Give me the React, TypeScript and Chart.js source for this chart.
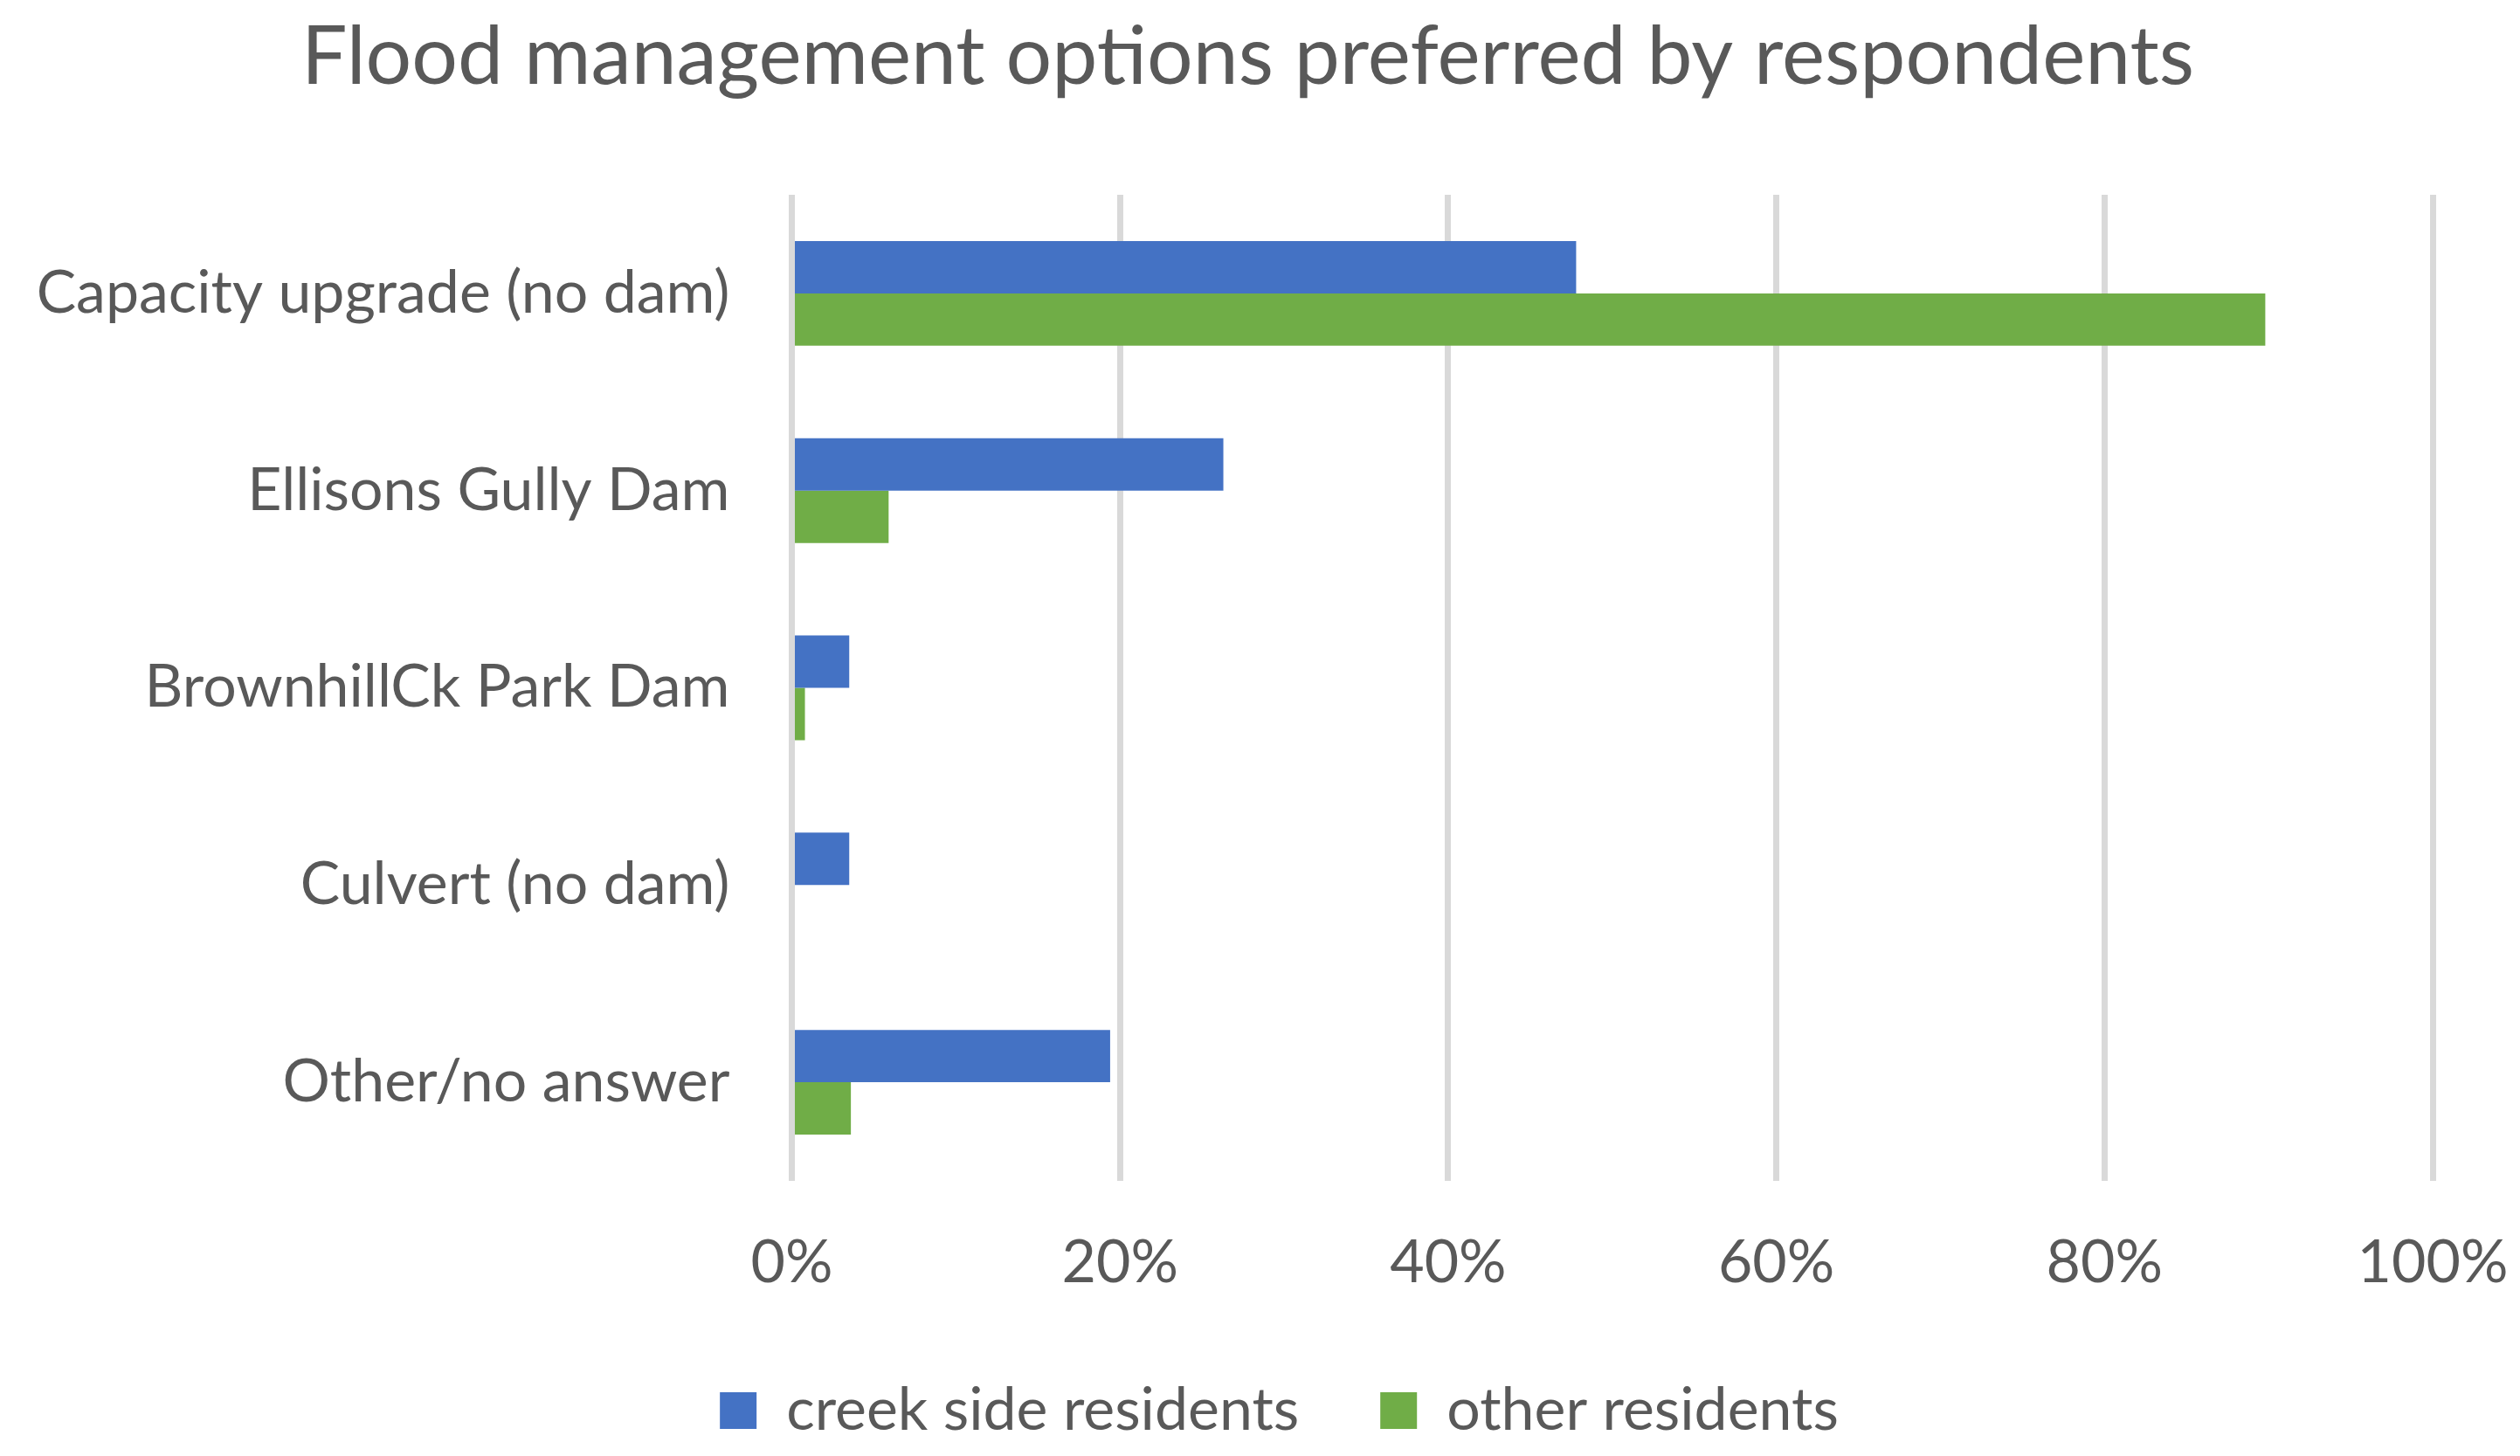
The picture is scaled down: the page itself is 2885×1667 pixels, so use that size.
import { Chart, registerables } from "chart.js";
import { useEffect, useRef } from "react";

Chart.register(...registerables);

const categories = [
  "Capacity upgrade (no dam)",
  "Ellisons Gully Dam",
  "BrownhillCk Park Dam",
  "Culvert (no dam)",
  "Other/no answer",
];
const seriesNames = ["creek side residents", "other residents"];
const creekSide = [47.8, 26.3, 3.5, 3.5, 19.4];
const otherResidents = [89.8, 5.9, 0.8, 0, 3.6];
const xTicks = [0, 20, 40, 60, 80, 100];

const TEXT = "#595959";
const FONT = "Lato";

// the y labels need the whole left margin, so title and legend get moved back to where Excel puts them
const boxShift = {
  id: "boxShift",
  afterLayout(chart: any) {
    const t = chart.titleBlock;
    if (t) {
      t.left += 36;
      t.right += 36;
    }
    const lg = chart.legend;
    if (lg) {
      lg.left += 72;
      lg.right += 72;
    }
  },
};

export default function App() {
  const canvasRef = useRef<HTMLCanvasElement | null>(null);

  useEffect(() => {
    if (!canvasRef.current) return;
    const chart = new Chart(canvasRef.current, {
      type: "bar",
      data: {
        labels: categories,
        datasets: [
          {
            label: seriesNames[0],
            data: creekSide,
            backgroundColor: "#4472C4",
            borderWidth: 0,
          },
          {
            label: seriesNames[1],
            data: otherResidents,
            backgroundColor: "#70AD47",
            borderWidth: 0,
          },
        ],
      },
      plugins: [boxShift],
      options: {
        indexAxis: "y",
        responsive: false,
        animation: false,
        devicePixelRatio: 1,
        datasets: {
          bar: { categoryPercentage: 0.531, barPercentage: 1 },
        },
        layout: { padding: { left: 0, right: 100, top: 0, bottom: 8 } },
        plugins: {
          title: {
            display: true,
            text: "Flood management options preferred by respondents",
            color: TEXT,
            font: { family: FONT, size: 93, weight: "normal", lineHeight: 1.2 },
            padding: { top: 10, bottom: 101.4 },
          },
          legend: {
            position: "bottom",
            labels: {
              color: TEXT,
              font: { family: FONT, size: 68 },
              boxWidth: 42,
              boxHeight: 42,
              padding: 93,
            },
          },
          tooltip: { enabled: false },
        },
        scales: {
          x: {
            min: 0,
            max: 100,
            afterBuildTicks: (axis: any) => {
              axis.ticks = xTicks.map((v) => ({ value: v }));
            },
            afterFit: (axis: any) => {
              axis.height = 136;
            },
            grid: { color: "#D9D9D9", lineWidth: 7, drawTicks: false },
            border: { display: false },
            ticks: {
              color: TEXT,
              font: { family: FONT, size: 68, lineHeight: 2.76 },
              padding: 0,
              maxRotation: 0,
              callback: (v: any) => `${v}%`,
            },
          },
          y: {
            afterFit: (axis: any) => {
              axis.width = 906.5;
            },
            grid: { display: false, drawTicks: false },
            border: { display: false },
            ticks: {
              color: TEXT,
              font: { family: FONT, size: 68 },
              padding: 71,
            },
          },
        },
      },
    });
    return () => chart.destroy();
  }, []);

  return (
    <div
      style={{
        position: "absolute",
        left: 0,
        top: 0,
        width: 2885,
        height: 1667,
        background: "#ffffff",
      }}
    >
      <canvas ref={canvasRef} width={2885} height={1667} style={{ display: "block" }} />
    </div>
  );
}
